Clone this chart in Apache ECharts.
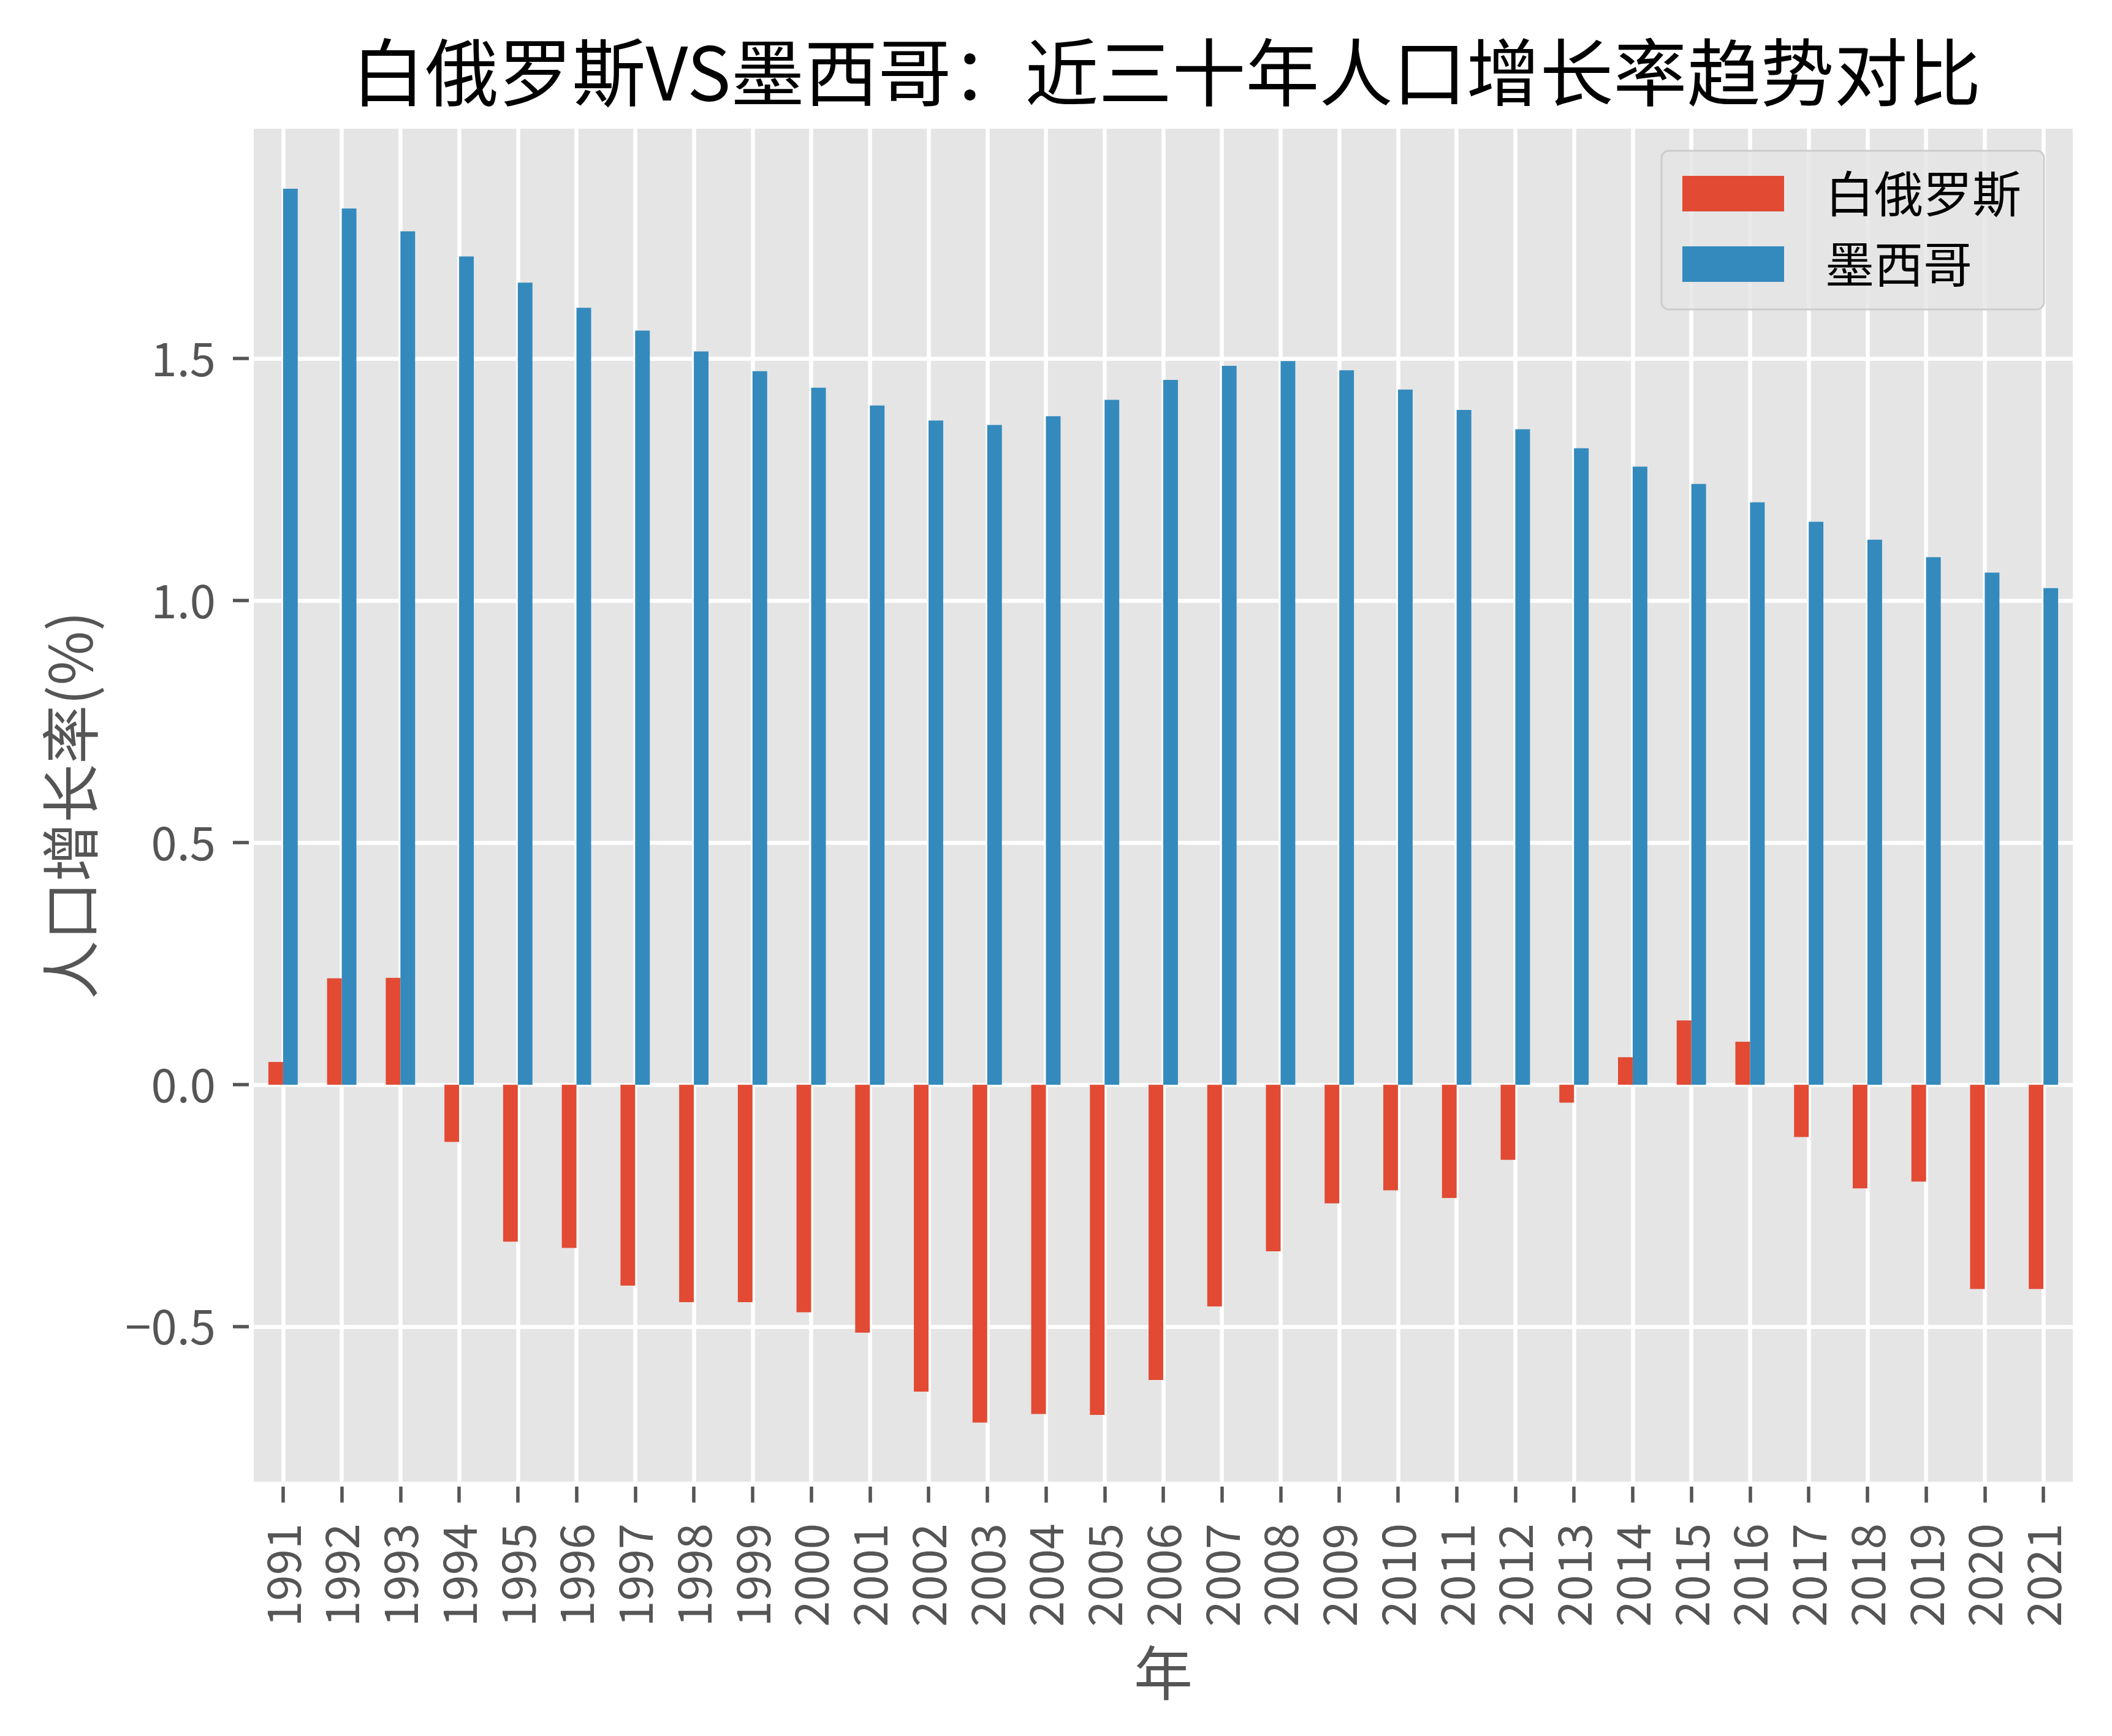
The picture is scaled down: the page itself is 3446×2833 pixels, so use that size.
<!DOCTYPE html>
<html>
<head>
<meta charset="utf-8">
<style>
html,body{margin:0;padding:0;background:#fff;}
#chart{width:3446px;height:2833px;}
</style>
<script src="https://cdn.jsdelivr.net/npm/echarts@6/dist/echarts.min.js"></script>
</head>
<body>
<div id="chart"></div>
<script>
const years = ['1991','1992','1993','1994','1995','1996','1997','1998','1999','2000','2001','2002','2003','2004','2005','2006','2007','2008','2009','2010','2011','2012','2013','2014','2015','2016','2017','2018','2019','2020','2021'];
const belarus = [0.047, 0.220, 0.221, -0.118, -0.324, -0.337, -0.415, -0.449, -0.449, -0.470, -0.512, -0.634, -0.698, -0.680, -0.682, -0.610, -0.458, -0.344, -0.245, -0.218, -0.234, -0.155, -0.037, 0.057, 0.133, 0.089, -0.108, -0.214, -0.200, -0.422, -0.422];
const mexico = [1.851, 1.810, 1.763, 1.711, 1.657, 1.605, 1.558, 1.515, 1.474, 1.440, 1.403, 1.372, 1.363, 1.381, 1.415, 1.456, 1.485, 1.495, 1.476, 1.436, 1.394, 1.354, 1.315, 1.277, 1.241, 1.203, 1.163, 1.126, 1.090, 1.058, 1.026];
const yTicks = [-0.5, 0, 0.5, 1.0, 1.5];
const seriesNames = ['白俄罗斯', '墨西哥'];
const titleText = '白俄罗斯VS墨西哥：近三十年人口增长率趋势对比';
const xName = '年';
const yName = '人口增长率(%)';

const FONT = '"Noto Sans CJK SC", "Noto Sans", sans-serif';
const chart = echarts.init(document.getElementById('chart'), null, {renderer: 'canvas'});
chart.setOption({
  backgroundColor: '#ffffff',
  animation: false,
  title: {
    text: titleText,
    left: 1898,
    top: 50,
    textAlign: 'center',
    textStyle: {fontFamily: FONT, fontSize: 120, fontWeight: 'normal', color: '#000', lineHeight: 126}
  },
  legend: {
    data: seriesNames,
    orient: 'vertical',
    left: 2711,
    top: 246,
    padding: [30, 37, 34, 34],
    itemWidth: 166,
    itemHeight: 58,
    itemGap: 35,
    icon: 'rect',
    backgroundColor: 'rgba(229,229,229,0.8)',
    borderColor: '#cccccc',
    borderWidth: 3,
    borderRadius: 12,
    textStyle: {fontFamily: FONT, fontSize: 80, color: '#000', padding: [0, 0, 0, 62]}
  },
  grid: {
    left: 414, top: 210, width: 2968, height: 2208,
    show: true, backgroundColor: '#E5E5E5', borderWidth: 0,
    containLabel: false
  },
  xAxis: {
    type: 'category',
    data: years,
    boundaryGap: true,
    offset: 8,
    name: xName,
    nameLocation: 'middle',
    nameGap: 256,
    nameTextStyle: {fontFamily: FONT, fontSize: 96, color: '#555555', lineHeight: 96},
    axisLine: {show: false, onZero: false},
    axisTick: {show: true, alignWithLabel: true, length: 26, lineStyle: {color: '#555555', width: 5.5}},
    axisLabel: {rotate: 90, margin: 60, fontFamily: FONT, fontSize: 76, color: '#555555', interval: 0},
    splitLine: {show: true, alignWithLabel: true, interval: 0, lineStyle: {color: '#ffffff', width: 6.5}}
  },
  yAxis: {
    type: 'value',
    min: -0.82,
    max: 1.975,
    offset: 8,
    name: yName,
    nameLocation: 'middle',
    nameGap: 243,
    nameRotate: 90,
    nameTextStyle: {fontFamily: FONT, fontSize: 96, color: '#555555', lineHeight: 96},
    axisLine: {show: false},
    axisTick: {show: true, length: 26, customValues: yTicks, lineStyle: {color: '#555555', width: 5.5}},
    axisLabel: {
      customValues: yTicks,
      margin: 54,
      fontFamily: FONT, fontSize: 76, color: '#555555',
      formatter: function (v) { const s = Math.abs(v).toFixed(1); return v < 0 ? '\u2212' + s : s; }
    },
    splitLine: {show: true, lineStyle: {color: '#ffffff', width: 6.5}}
  },
  series: [
    {name: seriesNames[0], type: 'bar', data: belarus, barWidth: '25%', barGap: '0%', itemStyle: {color: '#E24A33'}},
    {name: seriesNames[1], type: 'bar', data: mexico, barWidth: '25%', barGap: '0%', itemStyle: {color: '#348ABD'}}
  ]
});
</script>
</body>
</html>
